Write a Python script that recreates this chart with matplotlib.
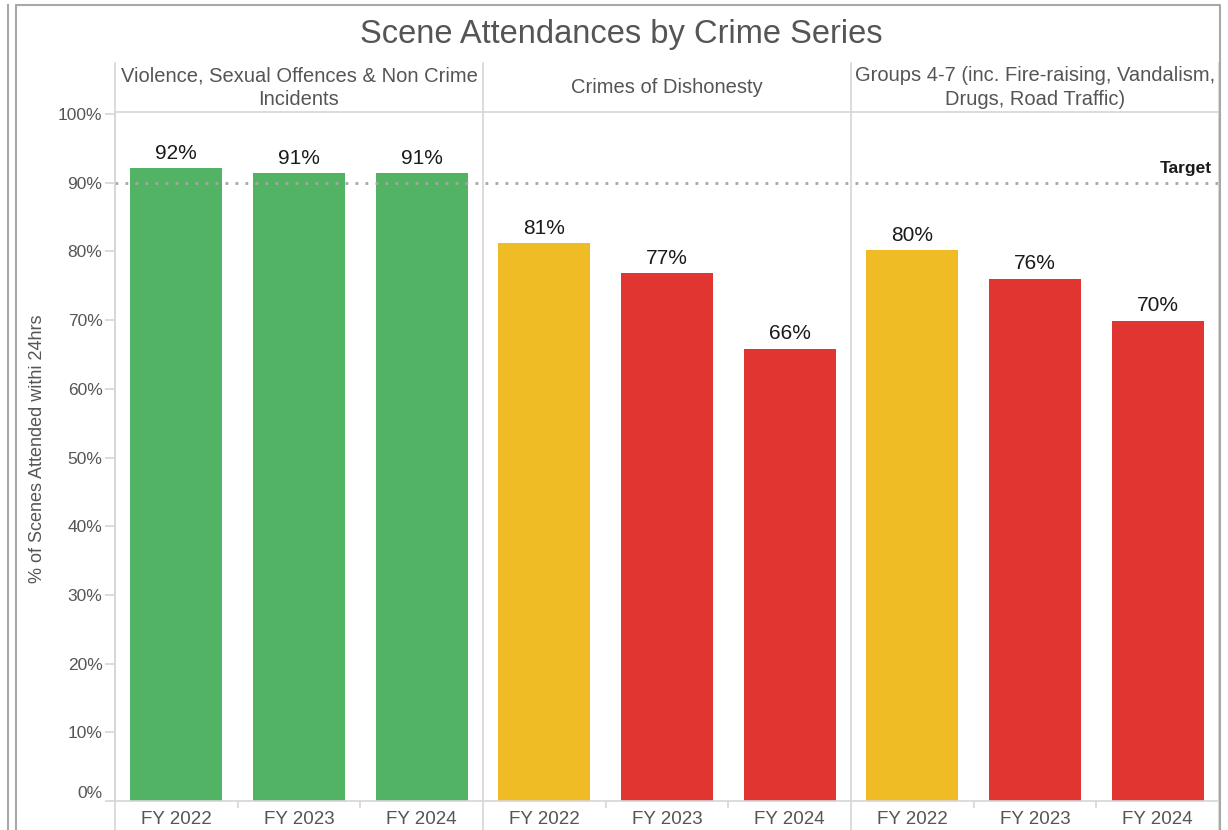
import matplotlib
matplotlib.use("Agg")
import matplotlib.pyplot as plt
import matplotlib.transforms as mtransforms
from matplotlib.lines import Line2D

plt.rcParams['font.family'] = ['Liberation Sans', 'DejaVu Sans']

# data
series = ["Violence, Sexual Offences & Non Crime\nIncidents",
          "Crimes of Dishonesty",
          "Groups 4-7 (inc. Fire-raising, Vandalism,\nDrugs, Road Traffic)"]
years = ["FY 2022", "FY 2023", "FY 2024"]
violence = [92.1, 91.4, 91.4]
dishonesty = [81.2, 76.8, 65.8]
groups = [80.2, 76.0, 69.9]
target = 90
y_ticks = [0, 10, 20, 30, 40, 50, 60, 70, 80, 90, 100]

GREEN = '#52b365'
AMBER = '#f0bc26'
RED = '#e03531'
GRID = '#d6d6d6'
TXT = '#555555'


def rag(v):
    if v >= target:
        return GREEN
    if v >= 80:
        return AMBER
    return RED


W, H = 1228, 830
fig = plt.figure(figsize=(W / 100, H / 100), dpi=100)

# pixel layout
left, right, top, bottom, head_top = 115, 1219, 112, 801, 63
ax = fig.add_axes([left / W, 1 - bottom / H, (right - left) / W, (bottom - top) / H])

values = violence + dishonesty + groups
labels = years * 3
xs = list(range(len(values)))
ax.bar(xs, values, width=0.75, color=[rag(v) for v in values], zorder=2)

for x, v in zip(xs, values):
    ax.annotate(f"{v:.0f}%", (x, v), xytext=(0, 4), textcoords='offset points',
                ha='center', va='bottom', fontsize=15, color='#1a1a1a')

ax.set_xlim(-0.5, len(values) - 0.5)
ax.set_ylim(0, 100.3)

# target line
ax.axhline(target, color='#a6a6a6', lw=2.0, linestyle=(0, (1, 2.6)), zorder=3)
ax.annotate("Target", (1, target), xycoords=ax.get_yaxis_transform(),
            xytext=(-5, 5), textcoords='offset points', ha='right', va='bottom',
            fontsize=12.5, fontweight='bold', color='#1a1a1a')

# axes styling
for s in ['left', 'right', 'top', 'bottom']:
    ax.spines[s].set_color(GRID)
    ax.spines[s].set_linewidth(1.2)
ax.set_yticks(y_ticks)
ax.set_yticklabels([f"{t}%" for t in y_ticks])
ax.tick_params(axis='y', length=7, width=1.2, color=GRID, pad=2,
               labelsize=12.5, labelcolor=TXT)
zero = ax.get_yticklabels()[0]
zero.set_va('bottom')
zero.set_y(2.5)
ax.set_xticks(xs)
ax.set_xticklabels(labels)
ax.set_xticks([i + 0.5 for i in range(len(values) - 1) if (i + 1) % 3 != 0], minor=True)
ax.tick_params(axis='x', which='major', length=0, pad=7, labelsize=13.5, labelcolor=TXT)
ax.tick_params(axis='x', which='minor', length=5, width=1.2, color=GRID)

# panel dividers running through header and x-label band
blend = mtransforms.blended_transform_factory(ax.transData, fig.transFigure)
for b in [-0.5, 2.5, 5.5, 8.5]:
    fig.add_artist(Line2D([b, b], [0, 1 - head_top / H], transform=blend,
                          color=GRID, lw=1.2))

# panel headers
for i, name in enumerate(series):
    fig.text(3 * i + 1, 1 - (head_top + top) / 2 / H, name, transform=blend,
             ha='center', va='center', fontsize=14.5, color=TXT, linespacing=1.3)

fig.text(621 / W, 1 - 34 / H, "Scene Attendances by Crime Series",
         ha='center', va='center', fontsize=23.5, color=TXT)
fig.text(38 / W, 1 - 449 / H, "% of Scenes Attended withi 24hrs", rotation=90,
         ha='center', va='center', fontsize=13, color=TXT)

# outer frames
frame = '#a8a8a8'
fig.add_artist(Line2D([8 / W, 8 / W], [0, 1 - 5 / H], transform=fig.transFigure, color=frame, lw=1.5))
fig.add_artist(Line2D([16 / W, 16 / W, 1220 / W, 1220 / W], [0, 1 - 5 / H, 1 - 5 / H, 0],
                      transform=fig.transFigure, color=frame, lw=1.5))

fig.savefig("out.png", dpi=100)
